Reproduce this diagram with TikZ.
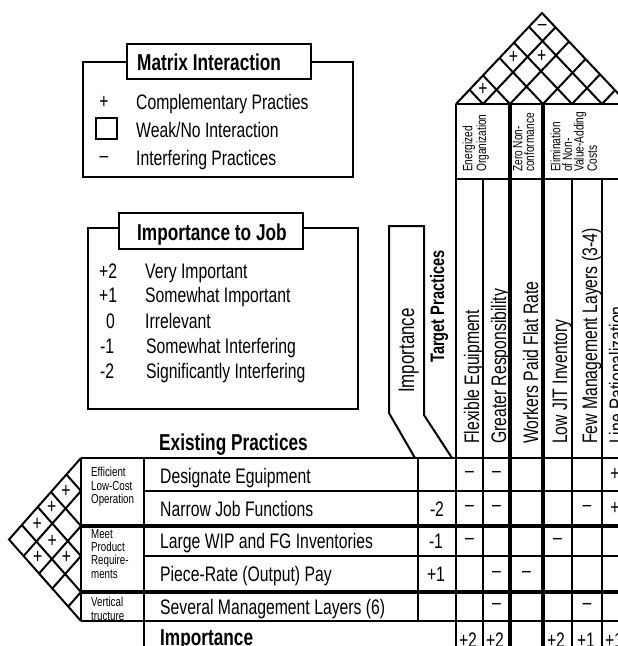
\documentclass[tikz,border=0pt]{standalone}
\usepackage{fontspec}
\newfontfamily\nf[FakeStretch=0.75]{Liberation Sans}
\begin{document}
\begin{tikzpicture}[x=1pt,y=-1pt,
  reg/.style={font=\nf\fontsize{21}{24}\selectfont, inner sep=0pt},
  hd/.style={font=\nf\bfseries\fontsize{23}{26}\selectfont, inner sep=0pt},
  tp/.style={font=\nf\bfseries\fontsize{19.5}{22}\selectfont, inner sep=0pt},
  imp/.style={font=\nf\fontsize{22.5}{25}\selectfont, inner sep=0pt},
  sm/.style={font=\nf\fontsize{13}{13.4}\selectfont, inner sep=0pt, align=left},
  xs/.style={font=\nf\fontsize{13.5}{11.6}\selectfont, inner sep=0pt, align=left},
  bx/.style={line width=2pt},
  gl/.style={line width=2pt},
  gt/.style={line width=1.5pt},
  gk/.style={line width=3.8pt}]
\useasboundingbox (0,0) rectangle (618,646);
\clip (0,0) rectangle (618,646);

% ---------- Legend 1: Matrix Interaction ----------
\draw[bx] (83,62) rectangle (353,177);
\draw[bx, fill=white] (127,44) rectangle (311,79);
\node[hd, anchor=base west] (mit) at (137,70) {Matrix Interaction};
\node[reg] (lp) at (104,102) {+};
\draw[bx] (96,118) rectangle (117,139);
\node[reg] (lm) at (104,159) {\char"2013};
\node[reg, anchor=base west] (lt1) at (136,109) {Complementary Practies};
\node[reg, anchor=base west] (lt2) at (136,137) {Weak/No Interaction};
\node[reg, anchor=base west] (lt3) at (136,165) {Interfering Practices};

% ---------- Legend 2: Importance to Job ----------
\draw[bx] (88,228) rectangle (358,409);
\draw[bx, fill=white] (119,213) rectangle (303,249);
\node[hd, anchor=base west] (ijt) at (137,240) {Importance to Job};
\node[reg, anchor=base west] (n1) at (99,278) {+2};
\node[reg, anchor=base west] (n2) at (99,302) {+1};
\node[reg, anchor=base west] (n3) at (106,328) {0};
\node[reg, anchor=base west] (n4) at (100,353) {-1};
\node[reg, anchor=base west] (n5) at (100,378) {-2};
\node[reg, anchor=base west] (d1) at (145,278) {Very Important};
\node[reg, anchor=base west] (d2) at (145,302) {Somewhat Important};
\node[reg, anchor=base west] (d3) at (145,328) {Irrelevant};
\node[reg, anchor=base west] (d4) at (146,353) {Somewhat Interfering};
\node[reg, anchor=base west] (d5) at (146,378) {Significantly Interfering};

% ---------- Top roof ----------
\draw[gl] (456,104) -- (542,13) -- (628,104);
\draw[gl] (483,104) -- (555.5,27.29);  \draw[gl] (483,104) -- (469.5,89.72);
\draw[gl] (510,104) -- (569,41.57);    \draw[gl] (510,104) -- (483,75.43);
\draw[gl] (543,104) -- (585.5,59.03);  \draw[gl] (543,104) -- (499.5,57.97);
\draw[gl] (572,104) -- (600,74.37);    \draw[gl] (572,104) -- (514,42.63);
\draw[gl] (602,104) -- (615,90.24);    \draw[gl] (602,104) -- (529,26.76);
\node[reg] (r05) at (542.25,27) {\char"2013};
\node[reg] (r03) at (513.5,57.4) {+};
\node[reg] (r14) at (541.75,56.1) {+};
\node[reg] (r01) at (483,89.7) {+};

% ---------- Header ----------
\draw[gl] (456,104) -- (628,104);
\draw[gl] (456,179) -- (628,179);
\draw[gl] (456,104) -- (456,646);
\draw[gk] (510,104) -- (510,646);
\draw[gk] (543,104) -- (543,646);
\draw[gl] (628,104) -- (628,646);
\draw[gt] (483,179) -- (483,646);
\draw[gl] (572,179) -- (572,646);
\draw[gt] (602,179) -- (602,646);
\node[xs, rotate=90, anchor=north west] (g1) at (462.5,172) {Energized\\Organization};
\node[xs, rotate=90, anchor=north west] (g2) at (513,172) {Zero Non-\\conformance};
\node[xs, rotate=90, anchor=north west] (g3) at (550.5,172) {Elimination\\of Non-\\Value-Adding\\Costs};

% column labels
\node[reg, rotate=90, anchor=base west] (c0) at (479,444) {Flexible Equipment};
\node[reg, rotate=90, anchor=base west] (c1) at (506,444) {Greater Responsibility};
\node[reg, rotate=90, anchor=base west] (c2) at (538,444) {Workers Paid Flat Rate};
\node[reg, rotate=90, anchor=base west] (c3) at (567,444) {Low JIT Inventory};
\node[reg, rotate=90, anchor=base west] (c4) at (597,444) {Few Management Layers (3-4)};
\node[reg, rotate=90, anchor=base west] (c5) at (624,444) {Line Rationalization};

% importance / target practices bracket
\draw[bx] (415,458) -- (389,413) -- (389,226) -- (424,226) -- (424,415) -- (452,458);
\node[imp, rotate=90, anchor=base west] (impl) at (414,393) {Importance};
\node[tp, rotate=90, anchor=base west] (tpl) at (444,363) {Target Practices};

% ---------- Rows ----------
\node[hd, anchor=base west] (ep) at (159,450) {Existing Practices};
\draw[gl] (81,458) -- (628,458);
\draw[gl] (144,491) -- (628,491);
\draw[gk] (81,526) -- (628,526);
\draw[gl] (144,556) -- (628,556);
\draw[gk] (81,592) -- (628,592);
\draw[gl] (81,621) -- (628,621);
\draw[gl] (81,458) -- (81,621);
\draw[gl] (144,458) -- (144,646);
\draw[gl] (418,458) -- (418,621);

\node[sm, anchor=north west] (k1) at (91,467) {Efficient\\Low-Cost\\Operation};
\node[sm, anchor=north west] (k2) at (91,529) {Meet\\Product\\Require-\\ments};
\node[sm, anchor=north west] (k3) at (91,597) {Vertical\\tructure};

\node[reg, anchor=base west] (e1) at (160,483) {Designate Eguipment};
\node[reg, anchor=base west] (e2) at (160,516) {Narrow Job Functions};
\node[reg, anchor=base west] (e3) at (160,548) {Large WIP and FG Inventories};
\node[reg, anchor=base west] (e4) at (160,581) {Piece-Rate (Output) Pay};
\node[reg, anchor=base west] (e5) at (160,614) {Several Management Layers (6)};
\node[hd, anchor=base west] (impb) at (160,645) {Importance};

\node[reg, anchor=base] (v2) at (437,516) {-2};
\node[reg, anchor=base] (v3) at (436,548) {-1};
\node[reg, anchor=base] (v4) at (436,581) {+1};

% ---------- Left roof ----------
\draw[gl] (81,458) -- (9,539.5) -- (81,621);
\draw[gl] (81,491) -- (66.42,474.5);  \draw[gl] (81,491) -- (23.58,556);
\draw[gl] (81,526) -- (50.96,492);    \draw[gl] (81,526) -- (39.04,573.5);
\draw[gl] (81,556) -- (37.71,507);    \draw[gl] (81,556) -- (52.29,588.5);
\draw[gl] (81,592) -- (21.81,525);    \draw[gl] (81,592) -- (68.19,606.5);
\node[reg] (l01) at (66,491.5) {+};
\node[reg] (l02) at (51.6,507.8) {+};
\node[reg] (l03) at (37.1,524.3) {+};
\node[reg] (l13) at (52.1,541.3) {+};
\node[reg] (l14) at (37.7,557.5) {+};
\node[reg] (l23) at (66.4,557.5) {+};

% ---------- Matrix body ----------
\node[reg] (m00) at (469.5,474.5) {\char"2013};
\node[reg] (m01) at (496.5,474.5) {\char"2013};
\node[reg] (m05) at (615,474.5) {+};
\node[reg] (m10) at (469.5,508.5) {\char"2013};
\node[reg] (m11) at (496.5,508.5) {\char"2013};
\node[reg] (m14) at (587,508.5) {\char"2013};
\node[reg] (m15) at (615,508.5) {+};
\node[reg] (m20) at (469.5,541) {\char"2013};
\node[reg] (m23) at (557.5,541) {\char"2013};
\node[reg] (m31) at (496.5,574) {\char"2013};
\node[reg] (m32) at (526.5,574) {\char"2013};
\node[reg] (m41) at (496.5,606.5) {\char"2013};
\node[reg] (m44) at (587,606.5) {\char"2013};

\node[reg, anchor=base] (b0) at (468,647) {+2};
\node[reg, anchor=base] (b1) at (495,647) {+2};
\node[reg, anchor=base] (b3) at (556,647) {+2};
\node[reg, anchor=base] (b4) at (586,647) {+1};
\node[reg, anchor=base] (b5) at (614,647) {+1};
\end{tikzpicture}
\end{document}
